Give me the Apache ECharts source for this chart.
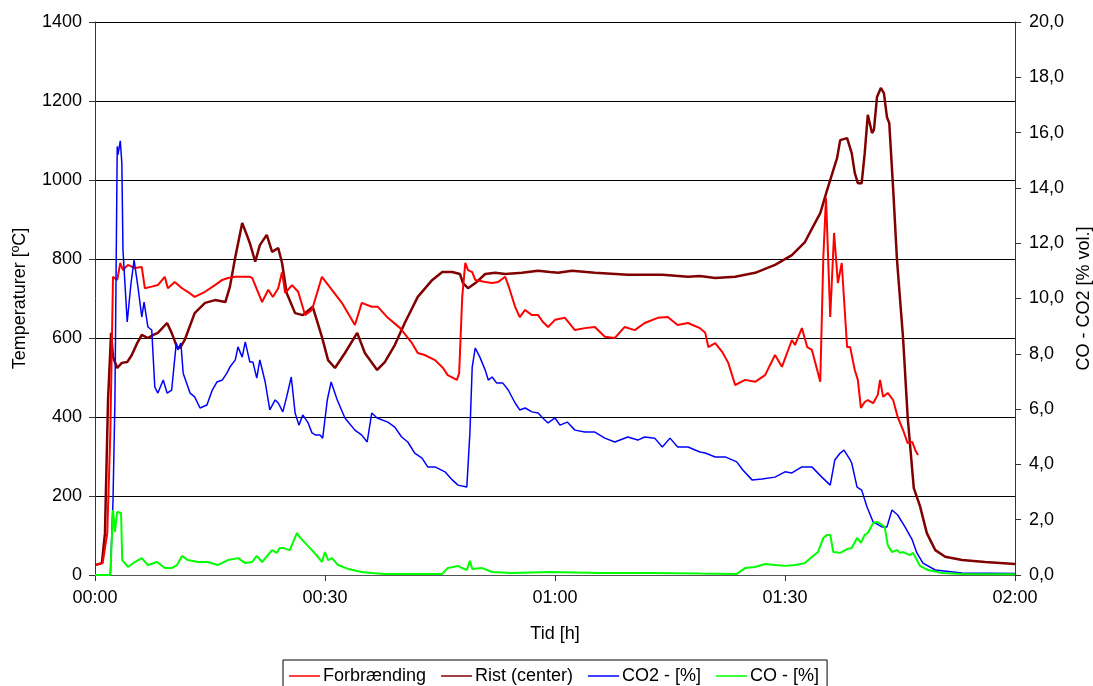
<!DOCTYPE html>
<html>
<head>
<meta charset="utf-8">
<script src="https://cdn.jsdelivr.net/npm/echarts@6/dist/echarts.min.js"></script>
<style>
html,body{margin:0;padding:0;background:#fff;overflow:hidden;}
#c{width:1093px;height:686px;}
</style>
</head>
<body>
<div id="c"></div>
<script>
// time in minutes from 00:00
const forbTime = [0,1.0,1.6,2.0,2.35,2.9,3.3,3.65,4.3,5.2,6.1,6.5,7.4,8.2,9.1,9.5,10.4,11.35,12.1,13.0,14.35,15.65,16.6,17.35,18.3,19.2,20.2,20.5,21.8,22.6,23.2,23.9,24.4,24.8,25.7,26.5,27.4,28.3,29.6,30.9,32.2,33.9,34.8,36.1,36.9,38.2,39.8,40.0,41.35,42.1,43.0,44.35,45.4,46.0,47.2,47.5,47.9,48.3,48.65,49.2,49.6,50.9,51.8,52.6,53.5,53.9,54.8,55.4,56.1,57.0,57.8,58.4,59.1,60.0,61.3,62.6,63.9,65.2,66.5,67.8,69.1,70.4,71.7,73.4,74.7,76.0,77.35,78.9,79.6,80.0,80.9,81.8,82.6,83.5,84.8,86.1,87.4,88.7,89.6,90.9,91.3,92.2,92.9,93.5,94.2,94.6,95.0,95.35,95.9,96.4,96.9,97.4,98.1,98.5,98.7,99.1,99.5,99.9,100.4,100.8,101.5,102.1,102.4,102.8,103.4,104.1,104.7,105.4,106.0,106.6,107.0,107.35];
const forbValues = [25,30,106,360,755,747,790,772,785,777,780,726,730,734,755,726,742,726,717,704,717,734,747,752,755,755,755,752,691,722,704,726,767,714,734,717,658,671,755,722,689,633,689,679,679,651,625,620,587,562,557,544,524,506,494,511,704,790,772,767,747,742,739,742,755,734,679,653,671,658,658,641,628,646,651,620,625,628,603,600,628,620,638,651,653,633,638,625,613,577,587,565,537,481,494,489,506,557,527,595,582,625,577,570,519,489,805,955,653,866,739,790,577,577,582,519,494,423,438,443,435,456,494,451,461,443,400,367,334,337,316,304];

const ristTime = [0,0.9,1.3,1.7,2.1,2.35,2.9,3.5,4.2,4.8,5.5,6.1,6.9,7.6,8.2,9.4,10.0,10.7,11.1,11.7,13.0,14.35,15.65,17.0,17.6,18.3,19.2,19.8,20.2,20.9,21.5,22.4,23.1,23.9,24.4,25.0,26.1,27.1,28.4,29.6,30.4,31.3,32.6,34.2,35.2,36.8,37.8,39.1,40.4,42.1,44.0,45.3,46.6,47.6,48.0,48.65,49.8,50.9,52.2,53.5,55.7,57.8,59.35,60.4,62.2,65.2,69.5,74.0,77.35,78.9,80.9,83.5,86.1,88.7,90.9,92.6,93.9,94.6,95.5,96.3,96.8,97.2,98.1,98.7,99.1,99.5,100.0,100.4,100.8,101.35,101.6,102.0,102.5,102.9,103.3,103.6,104.1,104.6,105.4,106.0,106.8,107.6,108.5,109.6,110.9,113.1,116.1,120];
const ristValues = [25,30,106,443,613,552,524,537,539,557,587,608,600,608,613,638,613,577,575,595,663,689,696,691,730,805,891,861,840,793,835,861,818,828,790,714,663,658,679,603,544,524,562,613,562,519,539,582,638,704,747,767,767,762,739,726,742,762,765,762,765,770,767,765,770,765,760,760,755,757,752,755,765,785,810,843,891,916,975,1025,1056,1101,1106,1068,1018,992,992,1068,1165,1119,1127,1210,1233,1220,1159,1144,980,800,600,400,220,175,106,63,46,38,33,28];

const co2Time = [0,2.0,2.35,2.6,2.9,3.0,3.3,3.5,3.65,4.2,4.7,5.1,5.6,6.1,6.4,6.9,7.4,7.8,8.2,8.9,9.4,10.0,10.6,10.8,11.2,11.5,12.4,13.0,13.7,14.6,15.3,15.9,16.6,17.2,17.6,18.3,18.65,19.2,19.6,20.2,20.6,21.1,21.5,22.2,22.8,23.5,23.9,24.5,25.0,25.6,26.1,26.6,27.1,27.8,28.3,28.8,29.35,29.7,30.3,30.8,31.6,32.6,33.9,34.8,35.5,36.1,36.8,38.2,39.1,40.0,40.8,41.7,42.65,43.4,44.35,45.65,46.6,47.35,48.5,48.9,49.2,49.6,50.2,50.9,51.3,51.8,52.4,53.2,53.9,54.8,55.4,56.1,57.0,57.8,58.4,59.1,60.0,60.65,61.6,62.6,63.9,65.2,66.5,67.8,69.5,70.8,71.7,73.0,74.0,75.0,76.0,77.35,78.9,79.6,80.9,82.2,83.7,84.5,85.7,87.0,88.7,90.0,90.9,92.2,93.5,94.8,95.9,96.5,97.2,97.7,98.5,98.7,99.4,100.0,100.7,101.5,102.65,103.3,103.95,104.7,105.65,106.6,107.2,108.0,109.6,113.1,120];
const co2Values = [0,0,2.7,6.3,15.5,15.2,15.7,14.9,11.75,9.15,10.56,11.39,10.42,9.33,9.87,8.97,8.86,6.8,6.58,7.05,6.58,6.69,8.39,8.14,8.39,7.3,6.58,6.44,6.04,6.15,6.69,6.98,7.05,7.3,7.52,7.78,8.25,7.88,8.43,7.7,7.7,7.12,7.78,6.98,5.97,6.33,6.22,5.9,6.44,7.16,5.86,5.42,5.79,5.5,5.14,5.06,5.06,4.95,6.33,6.98,6.33,5.68,5.24,5.06,4.81,5.86,5.68,5.53,5.35,4.99,4.81,4.41,4.23,3.91,3.91,3.73,3.44,3.25,3.18,5.14,7.52,8.21,7.88,7.41,7.05,7.16,6.94,6.94,6.69,6.22,5.97,6.04,5.9,5.86,5.68,5.5,5.68,5.42,5.53,5.24,5.17,5.17,4.95,4.81,4.99,4.88,4.99,4.95,4.63,4.95,4.63,4.63,4.45,4.41,4.27,4.27,4.09,3.8,3.44,3.47,3.54,3.73,3.69,3.91,3.91,3.54,3.25,4.16,4.41,4.52,4.16,4.05,3.18,3.07,2.46,1.92,1.74,1.74,2.35,2.17,1.74,1.27,0.8,0.43,0.18,0.07,0.05];

const coTime = [0,2.0,2.35,2.6,2.9,3.4,3.55,4.3,5.2,6.1,6.9,8.1,9.1,10.0,10.7,11.35,12.1,13.4,14.7,16.0,17.35,18.65,19.6,20.5,21.1,21.8,23.1,23.7,24.1,24.5,25.4,25.8,26.35,26.7,27.4,28.3,29.1,29.6,30.0,30.4,30.9,31.7,33.0,34.8,36.1,37.8,45.3,46.0,46.7,47.35,47.9,48.5,48.9,49.2,50.5,51.8,54.4,59.35,65.9,72.4,78.9,83.7,84.8,86.1,87.4,88.7,90.0,91.3,92.6,93.5,94.3,95.0,95.5,95.9,96.3,97.2,98.1,98.7,99.4,99.9,100.4,100.8,101.5,102.0,102.65,103.0,103.4,103.95,104.6,105.0,105.4,106.3,106.7,107.2,107.6,108.65,110.5,113.1,120];
const coValues = [0,0,2.35,1.56,2.28,2.24,0.54,0.29,0.47,0.61,0.36,0.47,0.25,0.25,0.36,0.69,0.54,0.47,0.47,0.36,0.54,0.61,0.43,0.47,0.69,0.47,0.9,0.8,0.98,0.98,0.9,1.16,1.52,1.37,1.16,0.9,0.65,0.47,0.83,0.54,0.61,0.36,0.22,0.11,0.07,0.04,0.04,0.25,0.29,0.33,0.25,0.18,0.51,0.22,0.25,0.11,0.07,0.11,0.07,0.07,0.05,0.04,0.25,0.29,0.4,0.36,0.33,0.36,0.43,0.65,0.83,1.34,1.45,1.45,0.83,0.8,0.94,0.98,1.34,1.16,1.45,1.52,1.88,1.92,1.81,1.74,1.08,0.83,0.9,0.8,0.83,0.72,0.8,0.54,0.33,0.18,0.07,0.04,0.03];

const seriesNames = ['Forbrænding','Rist (center)','CO2 - [%]','CO - [%]'];
const seriesColors = ['#FF0000','#800000','#0000FF','#00FF00'];
const leftTicks = [0,200,400,600,800,1000,1200,1400];
const rightTicks = [0,2,4,6,8,10,12,14,16,18,20];
const timeTicks = [0,30,60,90,120];

function zip(t, v){ return t.map((x,i)=>[x, v[i]]); }
function fmtTime(m){ const h=Math.floor(m/60), mm=Math.round(m%60); return String(h).padStart(2,'0')+':'+String(mm).padStart(2,'0'); }

const FONT = 'Liberation Sans, Arial, sans-serif';
const FS = 18;
const chart = echarts.init(document.getElementById('c'), null, {renderer:'canvas', width:1093, height:686});
chart.setOption({
  animation:false,
  backgroundColor:'#fff',
  textStyle:{fontFamily:FONT},
  grid:{left:95, right:78, top:22, bottom:111, containLabel:false, outerBoundsMode:'none'},
  legend:{
    data:seriesNames.map(n=>({name:n, icon:'rect'})), left:283, top:660,
    borderColor:'#000', borderWidth:1, borderRadius:0,
    padding:[7,8,8,6], itemWidth:31, itemHeight:1.5, itemGap:15,
    textStyle:{fontFamily:FONT, fontSize:FS, color:'#000', padding:[0,0,0,-2]}
  },
  xAxis:{
    type:'value', min:timeTicks[0], max:timeTicks[timeTicks.length-1], interval:30,
    name:'Tid [h]', nameLocation:'middle', nameGap:50,
    nameTextStyle:{fontSize:FS, color:'#000', fontFamily:FONT},
    axisLine:{show:true, onZero:false, lineStyle:{color:'#555', width:1}},
    axisTick:{show:true, length:6, lineStyle:{color:'#333'}},
    axisLabel:{fontSize:FS, color:'#000', margin:14, fontFamily:FONT, formatter:v=>fmtTime(v)},
    splitLine:{show:false}
  },
  yAxis:[{
    type:'value', min:leftTicks[0], max:leftTicks[leftTicks.length-1], interval:200,
    name:'Temperaturer [ºC]', nameLocation:'middle', nameGap:66, nameRotate:90,
    nameTextStyle:{fontSize:FS, color:'#000', fontFamily:FONT},
    axisLine:{show:true, onZero:false, lineStyle:{color:'#333', width:1}},
    axisTick:{show:true, length:6, lineStyle:{color:'#333'}},
    axisLabel:{fontSize:FS, color:'#000', margin:13, fontFamily:FONT, formatter:v=>String(v)},
    splitLine:{show:true, lineStyle:{color:'#000', width:1}}
  },{
    type:'value', min:rightTicks[0], max:rightTicks[rightTicks.length-1], interval:2,
    position:'right',
    name:'CO - CO2 [% vol.]', nameLocation:'middle', nameGap:60, nameRotate:90,
    nameTextStyle:{fontSize:FS, color:'#000', fontFamily:FONT},
    axisLine:{show:true, onZero:false, lineStyle:{color:'#333', width:1}},
    axisTick:{show:true, length:6, lineStyle:{color:'#333'}},
    axisLabel:{fontSize:FS, color:'#000', margin:14, fontFamily:FONT, formatter:v=>v.toFixed(1).replace('.',',')},
    splitLine:{show:false}
  }],
  series:[
    {name:seriesNames[0], type:'line', yAxisIndex:0, symbol:'none', data:zip(forbTime,forbValues), lineStyle:{color:seriesColors[0], width:2}, itemStyle:{color:seriesColors[0]}, z:4},
    {name:seriesNames[1], type:'line', yAxisIndex:0, symbol:'none', data:zip(ristTime,ristValues), lineStyle:{color:seriesColors[1], width:2.5}, itemStyle:{color:seriesColors[1]}, z:3},
    {name:seriesNames[2], type:'line', yAxisIndex:1, symbol:'none', data:zip(co2Time,co2Values), lineStyle:{color:seriesColors[2], width:1.5}, itemStyle:{color:seriesColors[2]}, z:5},
    {name:seriesNames[3], type:'line', yAxisIndex:1, symbol:'none', data:zip(coTime,coValues), lineStyle:{color:seriesColors[3], width:2}, itemStyle:{color:seriesColors[3]}, z:6}
  ]
});
</script>
</body>
</html>
